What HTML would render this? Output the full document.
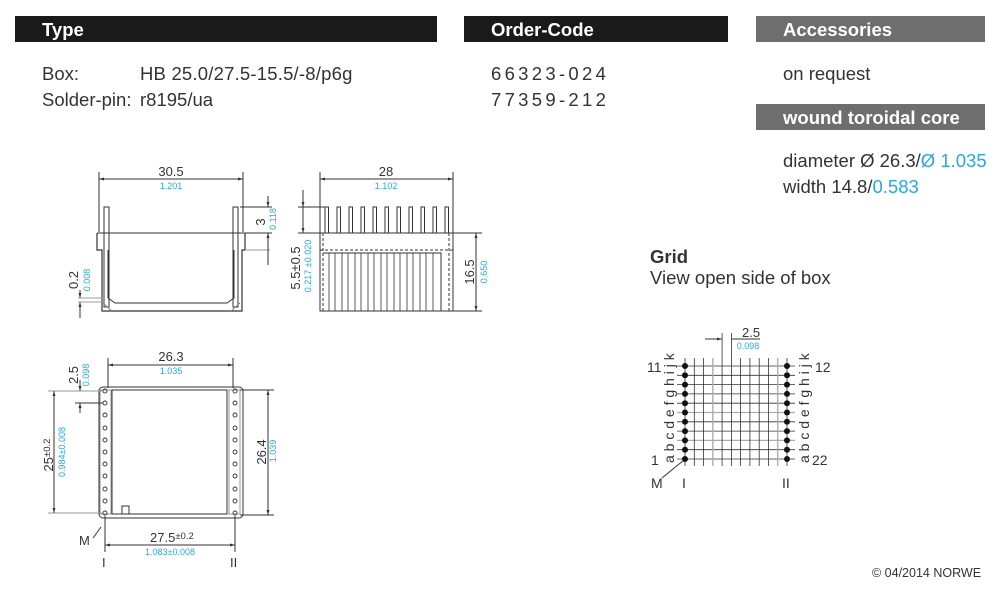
<!DOCTYPE html>
<html><head><meta charset="utf-8"><style>
body{margin:0;background:#fff;width:1000px;height:593px;overflow:hidden;font-family:"Liberation Sans",sans-serif}
svg text{font-family:"Liberation Sans",sans-serif}
</style></head><body>
<svg width="1000" height="593" viewBox="0 0 1000 593" xmlns="http://www.w3.org/2000/svg">
<defs>
<marker id="a" viewBox="0 0 10 10" refX="10" refY="5" markerWidth="7" markerHeight="5" orient="auto-start-reverse"><path d="M0,2 L10,5 L0,8z" fill="#333"/></marker>
</defs>
<rect x="15" y="16" width="422" height="26" fill="#1a1a1a"/>
<rect x="464" y="16" width="264" height="26" fill="#1a1a1a"/>
<rect x="756" y="16" width="229" height="26" fill="#6e6e6e"/>
<rect x="756" y="104" width="229" height="26" fill="#6e6e6e"/>
<g fill="#fff" font-weight="bold" font-size="18.5">
<text x="42" y="36">Type</text>
<text x="491" y="36">Order-Code</text>
<text x="783" y="36">Accessories</text>
<text x="783" y="124">wound toroidal core</text>
</g>
<g fill="#333" font-size="18.5">
<text x="42" y="80">Box:</text>
<text x="140" y="80" letter-spacing="0.2">HB 25.0/27.5-15.5/-8/p6g</text>
<text x="42" y="106">Solder-pin:</text>
<text x="140" y="106">r8195/ua</text>
<text x="491" y="80" letter-spacing="3.3">66323-024</text>
<text x="491" y="106" letter-spacing="3.3">77359-212</text>
<text x="783" y="80">on request</text>
<text x="783" y="167">diameter  Ø 26.3/<tspan fill="#29a8e0">Ø 1.035</tspan></text>
<text x="783" y="193">width 14.8/<tspan fill="#29a8e0">0.583</tspan></text>
<text x="650" y="263" font-weight="bold">Grid</text>
<text x="650" y="284">View open side of box</text>
</g>
<text x="872" y="577" font-size="12.5" fill="#333">© 04/2014 NORWE</text>

<g stroke="#333" stroke-width="1" fill="none">
<line x1="99" y1="172" x2="99" y2="232"/><line x1="243" y1="172" x2="243" y2="232"/>
<line x1="99" y1="179" x2="243" y2="179" marker-start="url(#a)" marker-end="url(#a)"/>
<rect x="104" y="207" width="5" height="100"/><rect x="233" y="207" width="5" height="100"/>
<line x1="97" y1="233" x2="245" y2="233"/>
<path d="M97,233 V250 H102 V311 H242 V250 H245 V233" stroke-width="1.2"/>
<path d="M108,250 V298 L115,303 H227 L234,298 V250"/>
<path d="M103,303 L112,311 M240,303 L231,311" stroke="#888"/>
<line x1="245" y1="250" x2="270" y2="250" stroke="#999"/>
<line x1="245" y1="233" x2="272" y2="233"/>
<line x1="240" y1="207" x2="272" y2="207"/>
<line x1="268" y1="196" x2="268" y2="207" marker-end="url(#a)"/>
<line x1="268" y1="245" x2="268" y2="233" marker-end="url(#a)"/>
<line x1="268" y1="245" x2="268" y2="265"/>
<line x1="80" y1="290" x2="80" y2="298" marker-end="url(#a)"/>
<line x1="80" y1="318" x2="80" y2="302" marker-end="url(#a)"/>
<line x1="78" y1="298" x2="104" y2="298" stroke="#999"/><line x1="78" y1="302" x2="104" y2="302" stroke="#999"/>
<line x1="320" y1="172" x2="320" y2="233"/><line x1="453" y1="172" x2="453" y2="233"/>
<line x1="320" y1="179" x2="453" y2="179" marker-start="url(#a)" marker-end="url(#a)"/>
<g>
<rect x="325" y="207" width="3.5" height="26"/><rect x="337" y="207" width="3.5" height="26"/><rect x="349" y="207" width="3.5" height="26"/><rect x="361" y="207" width="3.5" height="26"/><rect x="373" y="207" width="3.5" height="26"/><rect x="385" y="207" width="3.5" height="26"/><rect x="397" y="207" width="3.5" height="26"/><rect x="409" y="207" width="3.5" height="26"/><rect x="421" y="207" width="3.5" height="26"/><rect x="433" y="207" width="3.5" height="26"/><rect x="445" y="207" width="3.5" height="26"/>
</g>
<rect x="320" y="233" width="133" height="78" fill="#fff"/>
<line x1="320" y1="250" x2="453" y2="250" stroke-dasharray="3,2"/>
<line x1="323" y1="233" x2="323" y2="311" stroke-dasharray="3,2"/>
<line x1="449" y1="233" x2="449" y2="311" stroke-dasharray="3,2"/>
<path d="M323,253 H441 V311" />
<path d="M329,253V311M335,253V311M342,253V311M348,253V311M355,253V311M361,253V311M368,253V311M374,253V311M381,253V311M387,253V311M394,253V311M400,253V311M407,253V311M413,253V311M420,253V311M426,253V311M433,253V311" stroke-width="0.8"/>
<line x1="298" y1="207" x2="325" y2="207"/><line x1="298" y1="233" x2="320" y2="233"/>
<line x1="303" y1="190" x2="303" y2="207" marker-end="url(#a)"/>
<line x1="303" y1="207" x2="303" y2="233" marker-end="url(#a)"/>
<line x1="453" y1="233" x2="482" y2="233"/><line x1="453" y1="311" x2="482" y2="311"/>
<line x1="476" y1="233" x2="476" y2="311" marker-start="url(#a)" marker-end="url(#a)"/>
<line x1="108" y1="358" x2="108" y2="388"/><line x1="233" y1="358" x2="233" y2="388"/>
<line x1="108" y1="365" x2="233" y2="365" marker-start="url(#a)" marker-end="url(#a)"/>
<rect x="99" y="387" width="144" height="131" rx="4"/>
<rect x="112" y="390" width="115" height="124"/>
<rect x="100" y="390" width="11" height="124" stroke="#999"/>
<rect x="229" y="390" width="11" height="124" stroke="#999"/>
<rect x="122" y="506" width="7" height="8"/>
<g stroke-width="0.9">
<circle cx="105" cy="391" r="2"/><circle cx="105" cy="403" r="2"/><circle cx="105" cy="415" r="2"/><circle cx="105" cy="428" r="2"/><circle cx="105" cy="440" r="2"/><circle cx="105" cy="452" r="2"/><circle cx="105" cy="464" r="2"/><circle cx="105" cy="476" r="2"/><circle cx="105" cy="489" r="2"/><circle cx="105" cy="501" r="2"/><circle cx="105" cy="513" r="2"/>
<circle cx="235" cy="391" r="2"/><circle cx="235" cy="403" r="2"/><circle cx="235" cy="415" r="2"/><circle cx="235" cy="428" r="2"/><circle cx="235" cy="440" r="2"/><circle cx="235" cy="452" r="2"/><circle cx="235" cy="464" r="2"/><circle cx="235" cy="476" r="2"/><circle cx="235" cy="489" r="2"/><circle cx="235" cy="501" r="2"/><circle cx="235" cy="513" r="2"/>
</g>
<line x1="48" y1="391" x2="103" y2="391" stroke="#999"/><line x1="48" y1="513" x2="103" y2="513" stroke="#999"/>
<line x1="54" y1="391" x2="54" y2="513" marker-start="url(#a)" marker-end="url(#a)"/>
<line x1="75" y1="403" x2="103" y2="403"/>
<line x1="80" y1="380" x2="80" y2="391" marker-end="url(#a)"/>
<line x1="80" y1="413" x2="80" y2="403" marker-end="url(#a)"/>
<line x1="240" y1="390" x2="274" y2="390"/><line x1="240" y1="515" x2="274" y2="515"/>
<line x1="268" y1="390" x2="268" y2="515" marker-start="url(#a)" marker-end="url(#a)"/>
<line x1="105" y1="516" x2="105" y2="552"/><line x1="235" y1="516" x2="235" y2="552"/>
<line x1="105" y1="545" x2="235" y2="545" marker-start="url(#a)" marker-end="url(#a)"/>
<line x1="93" y1="538" x2="101" y2="527"/>
<g stroke-width="0.8">
<path d="M677,366H795M677,375.3H795M677,384.6H795M677,393.9H795M677,403.2H795M677,421.8H795M677,431.1H795M677,449.7H795M677,459H795"/>
<path d="M677,412.5H795M677,440.4H795" stroke="#aaa" stroke-width="1.3"/>
<path d="M685,358V466M694.3,358V466M703.5,358V466M740.6,358V466M749.9,358V466M759.2,358V466M768.4,358V466M787,358V466"/>
<path d="M712.8,358V466M777.7,358V466" stroke="#aaa" stroke-width="1.3"/>
<path d="M722.1,333V466M731.4,333V466"/>
</g>
<line x1="705" y1="339" x2="722" y2="339" marker-end="url(#a)"/>
<line x1="731.4" y1="339" x2="760" y2="339"/>
<line x1="662" y1="478" x2="684" y2="460"/>
</g>
<g fill="#111">
<circle cx="685" cy="366" r="3"/><circle cx="685" cy="375.3" r="3"/><circle cx="685" cy="384.6" r="3"/><circle cx="685" cy="393.9" r="3"/><circle cx="685" cy="403.2" r="3"/><circle cx="685" cy="412.5" r="3"/><circle cx="685" cy="421.8" r="3"/><circle cx="685" cy="431.1" r="3"/><circle cx="685" cy="440.4" r="3"/><circle cx="685" cy="449.7" r="3"/><circle cx="685" cy="459" r="3"/>
<circle cx="787" cy="366" r="3"/><circle cx="787" cy="375.3" r="3"/><circle cx="787" cy="384.6" r="3"/><circle cx="787" cy="393.9" r="3"/><circle cx="787" cy="403.2" r="3"/><circle cx="787" cy="412.5" r="3"/><circle cx="787" cy="421.8" r="3"/><circle cx="787" cy="431.1" r="3"/><circle cx="787" cy="440.4" r="3"/><circle cx="787" cy="449.7" r="3"/><circle cx="787" cy="459" r="3"/>
</g>
<g fill="#333" font-size="13">
<text x="171" y="176" text-anchor="middle">30.5</text>
<text x="386" y="176" text-anchor="middle">28</text>
<text x="171" y="361" text-anchor="middle">26.3</text>
<text x="150" y="542">27.5<tspan font-size="9.5" dy="-3">±0.2</tspan></text>
<text x="742" y="337">2.5</text>
<text transform="translate(265,222) rotate(-90)" text-anchor="middle">3</text>
<text transform="translate(78,280) rotate(-90)" text-anchor="middle">0.2</text>
<text transform="translate(300,268) rotate(-90)" text-anchor="middle">5.5±0.5</text>
<text transform="translate(474,272) rotate(-90)" text-anchor="middle">16.5</text>
<text transform="translate(78,375) rotate(-90)" text-anchor="middle">2.5</text>
<text transform="translate(53,455) rotate(-90)" text-anchor="middle">25<tspan font-size="9.5" dy="-3">±0.2</tspan></text>
<text transform="translate(266,452) rotate(-90)" text-anchor="middle">26.4</text>
<text x="79" y="545">M</text>
<text x="102" y="567" font-family="Liberation Serif">I</text>
<text x="230" y="567" font-family="Liberation Serif">II</text>
</g>
<g fill="#333" font-size="14">
<text x="647" y="372">11</text>
<text x="651" y="465">1</text>
<text x="815" y="372">12</text>
<text x="812" y="465">22</text>
<text transform="translate(674,463) rotate(-90)">a b c d e f g h i  j  k</text>
<text transform="translate(809,463) rotate(-90)">a b c d e f g h i  j  k</text>
<text x="651" y="488">M</text>
<text x="682" y="488" font-family="Liberation Serif">I</text>
<text x="782" y="488" font-family="Liberation Serif">II</text>
</g>
<g fill="#29a8e0" font-size="9">
<text x="171" y="189" text-anchor="middle">1.201</text>
<text x="386" y="189" text-anchor="middle">1.102</text>
<text x="171" y="374" text-anchor="middle">1.035</text>
<text x="170" y="555" text-anchor="middle">1.083±0.008</text>
<text x="748" y="349" text-anchor="middle">0.098</text>
<text transform="translate(276,219) rotate(-90)" text-anchor="middle">0.118</text>
<text transform="translate(90,280) rotate(-90)" text-anchor="middle">0.008</text>
<text transform="translate(311,266) rotate(-90)" text-anchor="middle">0.217 ±0.020</text>
<text transform="translate(487,272) rotate(-90)" text-anchor="middle">0.650</text>
<text transform="translate(89,375) rotate(-90)" text-anchor="middle">0.098</text>
<text transform="translate(65,452) rotate(-90)" text-anchor="middle">0.984±0.008</text>
<text transform="translate(276,451) rotate(-90)" text-anchor="middle">1.039</text>
</g>
</svg>
</body></html>
